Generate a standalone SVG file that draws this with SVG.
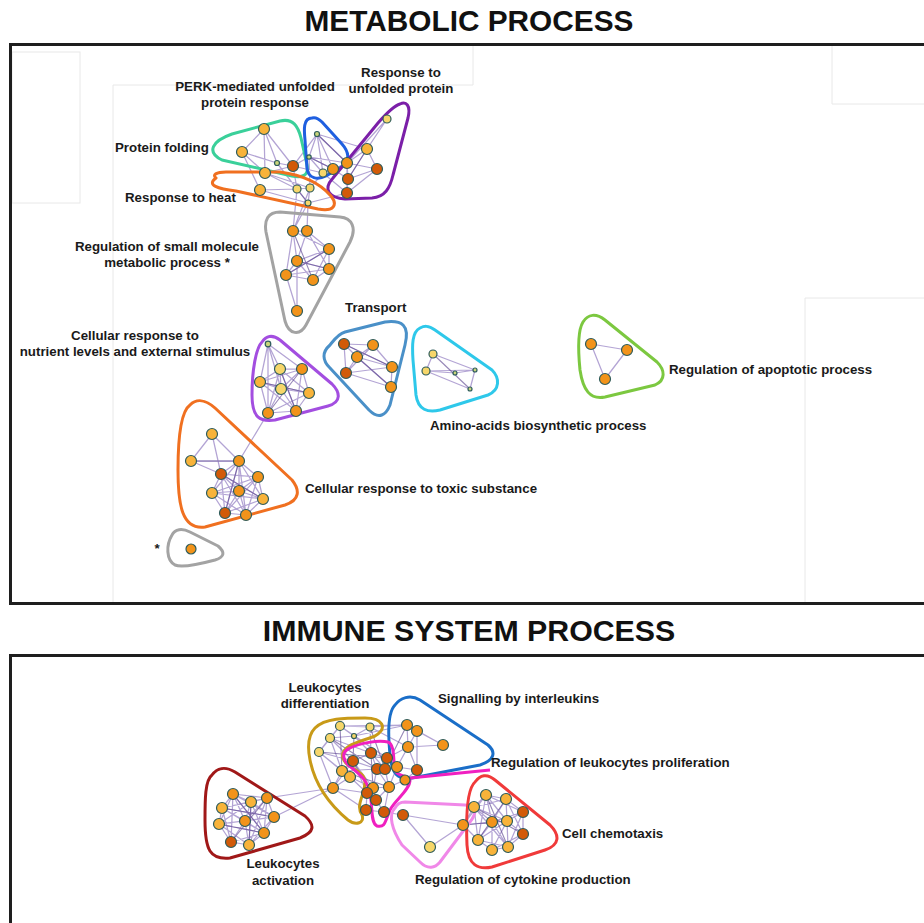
<svg xmlns="http://www.w3.org/2000/svg" width="924" height="923" viewBox="0 0 924 923">
<style>
.t{font-family:"Liberation Sans",Arial,sans-serif;font-weight:bold;font-size:13.3px;fill:#1a1a1a}
.title{font-family:"Liberation Sans",Arial,sans-serif;font-weight:bold;font-size:29.8px;fill:#111}
.title2{font-size:30.3px}
.frame{fill:none;stroke:#1e1e1e;stroke-width:3}
.faint{fill:none;stroke:#e8e8e8;stroke-width:1}
.e{fill:none;stroke:#9a86c6;stroke-width:1.25;stroke-opacity:0.75}
.ed{fill:none;stroke:#5e4690;stroke-width:1.1;stroke-opacity:0.65}
.h{fill:none;stroke-width:3;stroke-linejoin:round}
.n circle{stroke:#2e5c5c;stroke-width:1.2}
.Y{fill:#f6d66a}.L{fill:#f8b33a}.O{fill:#f2931a}.D{fill:#d25a08}.G{fill:#c9d47a}
</style>
<rect width="924" height="923" fill="#ffffff"/>
<g id="background">
<rect class="faint" x="12" y="52" width="68" height="151" fill="#fcfcfc"/>
<polyline class="faint" points="113,604 113,85 473,85 473,46"/>
<polyline class="faint" points="832,46 832,104 924,104"/>
<polyline class="faint" points="805,604 805,298 924,298"/>
</g>
<text class="title" x="469" y="31" text-anchor="middle">METABOLIC PROCESS</text>
<text class="title title2" x="469" y="641" text-anchor="middle">IMMUNE SYSTEM PROCESS</text>
<rect class="frame" x="10.5" y="44.5" width="930" height="559"/>
<rect class="frame" x="10.5" y="655.5" width="930" height="300"/>

<g id="connectors">
<path class="e" d="M264,129L242,152 M264,129L293,166 M264,129L277,163 M264,129L265,173 M242,152L277,163 M242,152L265,173 M242,152L260,190 M277,163L293,166 M277,163L297,189 M293,166L297,189 M293,166L309,157 M293,166L323,173 M265,173L297,189 M265,173L310,188 M260,190L297,189 M260,190L308,203 M297,189L310,188 M297,189L308,203 M310,188L308,203 M310,188L323,173 M317,134L309,157 M317,134L333,169 M317,134L347,163 M317,134L323,173 M309,157L323,173 M309,157L333,169 M309,157L347,163 M323,173L333,169 M333,169L347,163 M333,169L348,179 M387,119L367,149 M387,119L347,163 M367,149L377,169 M367,149L347,163 M367,149L348,179 M377,169L347,163 M377,169L348,179 M377,169L347,193 M347,163L348,179 M347,163L347,193 M348,179L347,193 M323,173L347,193 M310,188L309,157 M317,134L293,166 M367,149L317,134 M265,173L293,166 M308,203L347,193 M297,189L293,231 M308,203L307,231 M310,188L293,231 M308,203L293,231"/>
<path class="ed" d="M317,134L347,163 M309,157L333,169 M297,189L308,203 M367,149L348,179"/>
<path class="e" d="M293,231L307,231 M293,231L329,249 M293,231L297,261 M293,231L286,275 M307,231L329,249 M307,231L297,261 M307,231L329,269 M329,249L297,261 M329,249L329,269 M329,249L286,275 M329,249L313,280 M297,261L329,269 M297,261L286,275 M297,261L313,280 M329,269L286,275 M329,269L313,280 M286,275L313,280 M286,275L297,311 M297,261L297,311"/>
<path class="ed" d="M297,261L329,269 M286,275L329,249 M293,231L313,280"/>
<path class="e" d="M268,344L280,369 M268,344L302,369 M268,344L260,382 M268,344L281,389 M280,369L302,369 M280,369L260,382 M280,369L281,389 M280,369L309,393 M280,369L268,413 M280,369L296,411 M302,369L260,382 M302,369L281,389 M302,369L309,393 M302,369L296,411 M260,382L281,389 M260,382L268,413 M260,382L296,411 M260,382L309,393 M281,389L309,393 M281,389L268,413 M281,389L296,411 M309,393L268,413 M309,393L296,411 M268,413L296,411 M268,344L268,413"/>
<path class="ed" d="M260,382L309,393 M280,369L296,411 M302,369L268,413"/>
<path class="e" d="M344,344L373,345 M344,344L357,357 M344,344L346,373 M344,344L392,367 M373,345L357,357 M373,345L392,367 M357,357L346,373 M357,357L392,367 M357,357L391,387 M346,373L392,367 M346,373L391,387 M392,367L391,387 M373,345L346,373"/>
<path class="ed" d="M344,344L392,367 M357,357L391,387"/>
<path class="e" d="M433,354L426,371 M426,371L475,370 M433,354L475,370 M455,373L475,370 M475,370L470,389 M426,371L455,373 M426,371L470,389"/>
<path class="ed" d="M433,354L470,389"/>
<path class="e" d="M591,344L627,350 M627,350L605,379 M605,379L591,344"/>
<path class="e" d="M212,434L191,461 M212,434L239,461 M212,434L221,474 M191,461L239,461 M191,461L221,474 M239,461L221,474 M239,461L258,477 M239,461L212,493 M239,461L239,491 M239,461L263,499 M239,461L225,513 M239,461L246,515 M221,474L258,477 M221,474L212,493 M221,474L239,491 M221,474L263,499 M221,474L225,513 M221,474L246,515 M258,477L212,493 M258,477L239,491 M258,477L263,499 M258,477L225,513 M258,477L246,515 M212,493L239,491 M212,493L263,499 M212,493L225,513 M212,493L246,515 M239,491L263,499 M239,491L225,513 M239,491L246,515 M263,499L225,513 M263,499L246,515 M225,513L246,515 M239,461L268,413"/>
<path class="ed" d="M191,461L239,461 M221,474L263,499 M239,461L225,513"/>
<path class="e" d="M233,794L251,802 M233,794L267,798 M233,794L222,808 M233,794L245,821 M233,794L274,817 M233,794L219,824 M233,794L264,833 M233,794L231,842 M251,802L267,798 M251,802L222,808 M251,802L245,821 M251,802L274,817 M251,802L219,824 M251,802L264,833 M251,802L249,845 M267,798L222,808 M267,798L245,821 M267,798L274,817 M267,798L264,833 M267,798L249,845 M222,808L245,821 M222,808L219,824 M222,808L264,833 M222,808L231,842 M222,808L274,817 M245,821L274,817 M245,821L219,824 M245,821L264,833 M245,821L231,842 M245,821L249,845 M274,817L264,833 M274,817L249,845 M274,817L219,824 M219,824L231,842 M219,824L264,833 M219,824L249,845 M264,833L231,842 M264,833L249,845 M231,842L249,845 M267,798L333,788 M274,817L333,788"/>
<path class="ed" d="M233,794L264,833 M222,808L274,817 M251,802L249,845 M219,824L264,833 M267,798L231,842"/>
<path class="e" d="M340,726L370,727 M340,726L330,738 M340,726L354,736 M340,726L319,752 M340,726L407,725 M370,727L354,736 M370,727L407,725 M370,727L371,753 M330,738L319,752 M330,738L354,736 M330,738L342,771 M330,738L353,761 M319,752L342,771 M319,752L333,788 M319,752L350,777 M319,752L353,761 M354,736L371,753 M354,736L387,758 M342,771L350,777 M342,771L333,788 M342,771L353,761 M350,777L333,788 M350,777L373,788 M333,788L366,810 M333,788L367,793 M353,761L371,753 M353,761L377,769 M353,761L373,788 M353,761L367,793 M371,753L387,758 M371,753L377,769 M371,753L385,769 M387,758L385,769 M387,758L397,767 M387,758L408,747 M377,769L385,769 M377,769L373,788 M377,769L389,787 M385,769L397,767 M385,769L389,787 M397,767L389,787 M397,767L417,770 M373,788L389,787 M373,788L367,793 M373,788L376,800 M389,787L376,800 M389,787L384,812 M367,793L376,800 M367,793L366,810 M376,800L366,810 M376,800L384,812 M366,810L384,812 M407,725L417,731 M407,725L408,747 M417,731L408,747 M417,731L443,745 M408,747L443,745 M407,725L443,745 M408,747L417,770 M417,731L417,770 M408,747L397,767 M417,770L405,780 M405,780L389,787 M354,736L407,725 M370,727L408,747 M340,726L387,758 M330,738L371,753 M342,771L377,769 M350,777L367,793 M333,788L353,761 M319,752L340,726 M384,812L403,815 M403,815L430,847 M430,847L463,825 M403,815L463,825"/>
<path class="ed" d="M319,752L387,758 M330,738L377,769 M342,771L389,787 M353,761L376,800 M371,753L373,788 M354,736L353,761 M370,727L385,769 M340,726L342,771 M407,725L385,769"/>
<path class="e" d="M486,795L506,799 M486,795L474,807 M486,795L523,812 M486,795L492,822 M486,795L507,821 M486,795L478,840 M506,799L474,807 M506,799L523,812 M506,799L492,822 M506,799L507,821 M506,799L523,834 M474,807L492,822 M474,807L507,821 M474,807L463,825 M474,807L478,840 M474,807L508,847 M523,812L492,822 M523,812L507,821 M523,812L523,834 M523,812L508,847 M492,822L507,821 M492,822L463,825 M492,822L478,840 M492,822L508,847 M492,822L492,850 M507,821L523,834 M507,821L478,840 M507,821L508,847 M507,821L492,850 M523,834L508,847 M523,834L492,850 M463,825L478,840 M478,840L508,847 M478,840L492,850 M508,847L492,850 M463,825L486,795"/>
<path class="ed" d="M474,807L523,834 M486,795L508,847 M463,825L507,821 M506,799L478,840"/>
</g>

<g id="hulls">
<path id="hull-protein-folding" class="h" stroke="#3ad09a" d="M222,160 C206,152 212,141 232,134 L280,121 C293,118 298,126 301,138 L307,165 C309,176 302,178 292,176 Z"/>
<path id="hull-perk" class="h" stroke="#1f5fe0" d="M312,118 C303,118 304,130 305,140 L307,168 C308,179 318,180 326,176 L343,166 C350,160 349,152 342,144 L322,122 C318,118 315,117 312,118 Z"/>
<path id="hull-unfolded" class="h" stroke="#7b1fa8" d="M400,104 C393,106 385,115 378,123 L333,178 C322,190 330,198 345,199 L372,198 C385,197 390,188 393,175 L408,118 C411,105 406,101 400,104 Z"/>
<path id="hull-heat" class="h" stroke="#f07020" d="M216,178 C206,185 218,189 236,191 L318,209 C334,212 338,205 331,196 C320,183 302,175 280,172 L226,172 C216,172 212,175 216,178 Z"/>
<path id="hull-small-molecule" class="h" stroke="#a3a3a3" d="M280,212 C268,212 264,220 266,232 L285,321 C289,335 300,336 306,325 L350,242 C357,228 352,218 340,217 Z"/>
<path id="hull-nutrient" class="h" stroke="#a34ee0" d="M262,342 C256,348 252,370 252,395 C252,418 260,422 275,420 L328,406 C342,402 340,392 332,384 L280,340 C272,334 266,336 262,342 Z"/>
<path id="hull-transport" class="h" stroke="#4a90c8" d="M330,345 C322,352 322,360 330,368 L369,410 C379,420 386,415 390,405 L405,345 C410,325 402,320 385,322 L345,332 C338,334 334,340 330,345 Z"/>
<path id="hull-amino" class="h" stroke="#2ec8ea" d="M420,328 C412,332 412,345 413,360 L416,395 C418,410 428,413 440,410 L488,395 C500,390 500,378 492,370 L435,330 C428,325 424,326 420,328 Z"/>
<path id="hull-apoptotic" class="h" stroke="#7cc840" d="M583,322 C578,330 578,350 580,370 C583,390 590,400 605,397 L655,385 C666,380 665,370 657,362 L605,320 C596,313 588,314 583,322 Z"/>
<path id="hull-toxic" class="h" stroke="#f07020" d="M190,405 C180,412 178,440 178,470 C178,505 182,530 205,527 L285,505 C300,500 300,490 292,480 L215,408 C205,399 196,399 190,405 Z"/>
<path id="hull-star" class="h" stroke="#a3a3a3" d="M172,535 C166,545 166,560 175,565 C182,568 200,564 215,560 C225,557 225,552 218,546 L190,532 C182,528 175,529 172,535 Z"/>
<path id="hull-activation" class="h" stroke="#a01818" d="M212,775 C205,780 205,800 205,820 C205,850 210,860 230,858 L300,838 C315,832 315,825 305,816 L235,772 C225,766 217,768 212,775 Z"/>
<path id="hull-differentiation" class="h" stroke="#c89a18" d="M315,728 C325,718 345,718 365,718 C383,718 388,728 375,736 C360,742 340,745 343,758 C345,768 365,770 365,782 C365,795 355,805 362,815 C365,823 356,826 348,820 C330,805 315,785 310,760 C307,745 308,735 315,728 Z"/>
<path id="hull-interleukins" class="h" stroke="#1a6ec8" d="M395,705 C388,712 388,735 390,755 C392,775 398,780 412,778 L480,765 C495,760 496,752 488,745 L420,700 C410,694 400,698 395,705 Z"/>
<path id="hull-proliferation" class="h" stroke="#f020c0" d="M350,748 C360,743 378,740 388,742 C395,745 393,760 395,770 C398,778 408,774 410,780 C410,790 395,800 390,810 C385,822 385,828 377,826 C370,823 373,805 370,795 C368,780 360,775 352,768 C343,762 340,752 350,748 Z M410,778 L490,770"/>
<path id="hull-cytokine" class="h" stroke="#f088e8" d="M395,808 C388,815 392,830 402,845 L420,862 C428,870 435,868 440,862 L470,822 C478,812 475,806 465,805 L405,802 C400,802 397,804 395,808 Z"/>
<path id="hull-chemotaxis" class="h" stroke="#f03a3a" d="M475,782 C466,790 466,820 467,845 C468,865 478,870 492,867 L545,850 C560,845 560,835 550,825 L495,780 C487,773 480,775 475,782 Z"/>
</g>

<g id="nodes-protein-cluster" class="n">
<circle class="L" cx="264" cy="129" r="5.5"/><circle class="L" cx="242" cy="152" r="5.5"/><circle class="D" cx="293" cy="166" r="5.5"/><circle class="G" cx="277" cy="163" r="2.5"/>
<circle class="G" cx="317" cy="134" r="2.5"/><circle class="G" cx="309" cy="157" r="2.2"/><circle class="Y" cx="323" cy="173" r="4"/><circle class="O" cx="333" cy="169" r="5.5"/>
<circle class="Y" cx="387" cy="119" r="4"/><circle class="L" cx="367" cy="149" r="5.5"/><circle class="D" cx="377" cy="169" r="5.5"/><circle class="O" cx="347" cy="163" r="5.5"/><circle class="D" cx="348" cy="179" r="5.5"/><circle class="D" cx="347" cy="193" r="5.5"/>
<circle class="L" cx="265" cy="173" r="5.5"/><circle class="L" cx="260" cy="190" r="5.5"/><circle class="Y" cx="297" cy="189" r="4"/><circle class="Y" cx="310" cy="188" r="4"/><circle class="Y" cx="308" cy="203" r="3"/>
</g>
<g id="nodes-small-molecule" class="n">
<circle class="O" cx="293" cy="231" r="5.5"/><circle class="O" cx="307" cy="231" r="5.5"/><circle class="O" cx="329" cy="249" r="5.5"/><circle class="O" cx="297" cy="261" r="5.5"/><circle class="O" cx="329" cy="269" r="5.5"/><circle class="O" cx="286" cy="275" r="5.5"/><circle class="O" cx="313" cy="280" r="5.5"/><circle class="O" cx="297" cy="311" r="5.5"/>
</g>
<g id="nodes-nutrient" class="n">
<circle class="G" cx="268" cy="344" r="2.8"/><circle class="Y" cx="280" cy="369" r="5.5"/><circle class="O" cx="302" cy="369" r="5.5"/><circle class="L" cx="260" cy="382" r="5.5"/><circle class="Y" cx="281" cy="389" r="5.5"/><circle class="L" cx="309" cy="393" r="5.5"/><circle class="O" cx="268" cy="413" r="5.5"/><circle class="O" cx="296" cy="411" r="5.5"/>
</g>
<g id="nodes-transport" class="n">
<circle class="D" cx="344" cy="344" r="5.5"/><circle class="O" cx="373" cy="345" r="5.5"/><circle class="O" cx="357" cy="357" r="5.5"/><circle class="D" cx="346" cy="373" r="5.5"/><circle class="O" cx="392" cy="367" r="5.5"/><circle class="O" cx="391" cy="387" r="5.5"/>
</g>
<g id="nodes-amino" class="n">
<circle class="Y" cx="433" cy="354" r="4"/><circle class="Y" cx="426" cy="371" r="4"/><circle class="G" cx="455" cy="373" r="2"/><circle class="G" cx="475" cy="370" r="2"/><circle class="G" cx="470" cy="389" r="2"/>
</g>
<g id="nodes-apoptotic" class="n">
<circle class="O" cx="591" cy="344" r="5.5"/><circle class="O" cx="627" cy="350" r="5.5"/><circle class="O" cx="605" cy="379" r="5.5"/>
</g>
<g id="nodes-toxic" class="n">
<circle class="L" cx="212" cy="434" r="5.5"/><circle class="L" cx="191" cy="461" r="5.5"/><circle class="O" cx="239" cy="461" r="5.5"/><circle class="D" cx="221" cy="474" r="5.5"/><circle class="O" cx="258" cy="477" r="5.5"/><circle class="L" cx="212" cy="493" r="5.5"/><circle class="O" cx="239" cy="491" r="5.5"/><circle class="L" cx="263" cy="499" r="5.5"/><circle class="D" cx="225" cy="513" r="5.5"/><circle class="O" cx="246" cy="515" r="5.5"/>
</g>
<g id="nodes-star" class="n"><circle class="O" cx="191" cy="549" r="5"/></g>

<g id="nodes-activation" class="n">
<circle class="O" cx="233" cy="794" r="5.5"/><circle class="L" cx="251" cy="802" r="5.5"/><circle class="O" cx="267" cy="798" r="5.5"/><circle class="L" cx="222" cy="808" r="5.5"/><circle class="O" cx="245" cy="821" r="5.5"/><circle class="O" cx="274" cy="817" r="5.5"/><circle class="L" cx="219" cy="824" r="5.5"/><circle class="O" cx="264" cy="833" r="5.5"/><circle class="D" cx="231" cy="842" r="5.5"/><circle class="L" cx="249" cy="845" r="5.5"/>
</g>
<g id="nodes-differentiation" class="n">
<circle class="Y" cx="340" cy="726" r="4.5"/><circle class="Y" cx="370" cy="727" r="4"/><circle class="Y" cx="330" cy="738" r="4.5"/><circle class="Y" cx="354" cy="736" r="2.5"/><circle class="Y" cx="319" cy="752" r="4.5"/><circle class="L" cx="342" cy="771" r="5.5"/><circle class="L" cx="350" cy="777" r="5.5"/><circle class="O" cx="333" cy="788" r="5.5"/>
</g>
<g id="nodes-proliferation" class="n">
<circle class="D" cx="353" cy="761" r="5.5"/><circle class="D" cx="371" cy="753" r="5.5"/><circle class="D" cx="387" cy="758" r="5.5"/><circle class="D" cx="377" cy="769" r="5.5"/><circle class="D" cx="385" cy="769" r="5.5"/><circle class="O" cx="397" cy="767" r="5.5"/><circle class="O" cx="373" cy="788" r="5.5"/><circle class="O" cx="389" cy="787" r="5.5"/><circle class="D" cx="367" cy="793" r="5.5"/><circle class="D" cx="376" cy="800" r="5.5"/><circle class="D" cx="366" cy="810" r="5.5"/><circle class="D" cx="384" cy="812" r="5.5"/>
</g>
<g id="nodes-interleukins" class="n">
<circle class="O" cx="407" cy="725" r="5.5"/><circle class="O" cx="417" cy="731" r="5.5"/><circle class="O" cx="408" cy="747" r="5.5"/><circle class="O" cx="443" cy="745" r="5.5"/><circle class="D" cx="417" cy="770" r="5.5"/><circle class="O" cx="405" cy="780" r="5"/>
</g>
<g id="nodes-cytokine" class="n">
<circle class="D" cx="403" cy="815" r="5.5"/><circle class="Y" cx="430" cy="847" r="5.5"/><circle class="O" cx="463" cy="825" r="5.5"/>
</g>
<g id="nodes-chemotaxis" class="n">
<circle class="L" cx="486" cy="795" r="5.5"/><circle class="L" cx="506" cy="799" r="5.5"/><circle class="L" cx="474" cy="807" r="5.5"/><circle class="D" cx="523" cy="812" r="5.5"/><circle class="O" cx="492" cy="822" r="5.5"/><circle class="L" cx="507" cy="821" r="5.5"/><circle class="D" cx="523" cy="834" r="5.5"/><circle class="L" cx="478" cy="840" r="5.5"/><circle class="L" cx="508" cy="847" r="5.5"/><circle class="L" cx="492" cy="850" r="5.5"/>
</g>

<g id="labels">
<text class="t" x="255" y="91" text-anchor="middle">PERK-mediated unfolded</text>
<text class="t" x="255" y="107" text-anchor="middle">protein response</text>
<text class="t" x="401" y="77" text-anchor="middle">Response to</text>
<text class="t" x="401" y="93" text-anchor="middle">unfolded protein</text>
<text class="t" x="115" y="152">Protein folding</text>
<text class="t" x="125" y="202">Response to heat</text>
<text class="t" x="167" y="251" text-anchor="middle">Regulation of small molecule</text>
<text class="t" x="167" y="267" text-anchor="middle">metabolic process *</text>
<text class="t" x="345" y="312">Transport</text>
<text class="t" x="135" y="340" text-anchor="middle">Cellular response to</text>
<text class="t" x="135" y="356" text-anchor="middle">nutrient levels and external stimulus</text>
<text class="t" x="669" y="374">Regulation of apoptotic process</text>
<text class="t" x="430" y="430">Amino-acids biosynthetic process</text>
<text class="t" x="305" y="493">Cellular response to toxic substance</text>
<text class="t" x="157" y="553" text-anchor="middle">*</text>
<text class="t" x="325" y="692" text-anchor="middle">Leukocytes</text>
<text class="t" x="325" y="708" text-anchor="middle">differentiation</text>
<text class="t" x="438" y="703">Signalling by interleukins</text>
<text class="t" x="491" y="767">Regulation of leukocytes proliferation</text>
<text class="t" x="562" y="838">Cell chemotaxis</text>
<text class="t" x="415" y="884">Regulation of cytokine production</text>
<text class="t" x="283" y="868" text-anchor="middle">Leukocytes</text>
<text class="t" x="283" y="885" text-anchor="middle">activation</text>
</g>
</svg>
